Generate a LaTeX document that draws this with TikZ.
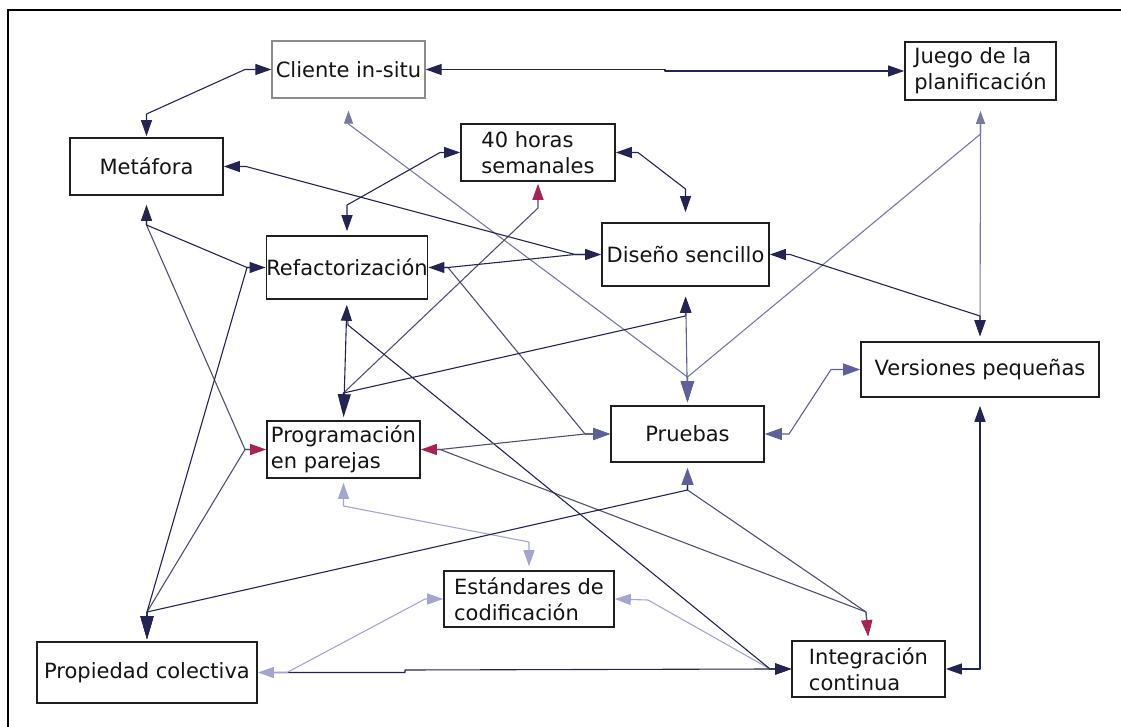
\documentclass[tikz,border=0pt]{standalone}
\usepackage{fontspec}
\setmainfont{DejaVu Sans}
\usetikzlibrary{arrows.meta}
\definecolor{dk}{RGB}{36,36,84}
\definecolor{md}{RGB}{95,95,155}
\definecolor{gy}{RGB}{120,120,160}
\definecolor{lg}{RGB}{80,80,110}
\definecolor{lv}{RGB}{165,165,210}
\definecolor{cr}{RGB}{165,35,85}
\tikzset{
  tdk/.tip={Triangle[length=16pt,width=11pt,color=dk]},
  bdk/.tip={Triangle[length=23pt,width=13pt,color=dk]},
  tmd/.tip={Triangle[length=17pt,width=12pt,color=md]},
  bmd/.tip={Triangle[length=21pt,width=13pt,color=md]},
  tgy/.tip={Triangle[length=13pt,width=9pt,color=gy]},
  tlv/.tip={Triangle[length=16pt,width=11pt,color=lv]},
  tcr/.tip={Triangle[length=16pt,width=11pt,color=cr]},
}
\begin{document}
\begin{tikzpicture}[x=1pt,y=-1pt,
  box/.style={draw=black!88, line width=1.6pt, fill=white, inner sep=0pt,
    align=left, text=black!92, font=\fontsize{21}{26}\selectfont},
  ln/.style={line width=1.1pt, line join=round}]
\useasboundingbox (0,0) rectangle (1121,727);
\draw[line width=2pt] (7.5,727) -- (7.5,10) -- (1121,10);

\node[box, draw=black!45, line width=1.2pt, minimum width=153pt, minimum height=57pt] (cli) at (348.5,69.5) {Cliente in-situ};
\node[box, minimum width=151pt, minimum height=58pt] (jue) at (980.5,71) {Juego de la\\planificación};
\node[box, minimum width=153pt, minimum height=57pt] (met) at (146.5,166.5) {Metáfora};
\node[box, minimum width=154pt, minimum height=57pt] (hor) at (538,152.5) {40 horas\\semanales};
\node[box, minimum width=160pt, minimum height=63pt] (ref) at (347,267.5) {Refactorización};
\node[box, minimum width=167pt, minimum height=63pt] (dis) at (685.5,254.5) {Diseño sencillo};
\node[box, minimum width=238pt, minimum height=55pt] (ver) at (980,369.5) {Versiones pequeñas};
\node[box, minimum width=153pt, minimum height=56pt] (pru) at (687.5,434) {Pruebas};
\node[box, minimum width=153pt, minimum height=57pt] (pro) at (343.5,449.5) {Programación\\en parejas};
\node[box, minimum width=170pt, minimum height=56pt] (est) at (529,599) {Estándares de\\codificación};
\node[box, minimum width=220pt, minimum height=61pt] (prp) at (147,672.5) {Propiedad colectiva};
\node[box, minimum width=153pt, minimum height=56pt] (int) at (868.5,669) {Integración\\continua};

% grey / light connectors first
\draw[ln,gy,tgy-bmd,shorten <=12pt,shorten >=3pt] (cli.south) -- (348.5,124) -- (687.5,377) -- (pru.north);
\draw[ln,gy,tgy-bmd,shorten <=10pt,shorten >=3pt] (jue.south) -- (980.5,134) -- (687.5,377) -- (pru.north);
\draw[ln,gy,-tdk,shorten <=23pt,shorten >=5pt] (jue.south) -- (980.5,134) -- (ver.north);
\draw[ln,lg,-tmd,shorten <=16pt] (ref.east) -- (448,267.5) -- (585,434) -- (pru.west);
\draw[ln,lg,-tcr,shorten <=16pt,shorten >=4pt] (pro.east) -- (440,449.5) -- (866,612) -- (int.north);
\draw[ln,lg,-tcr,shorten <=21pt,shorten >=4pt] (pru.south) -- (687.5,490) -- (866,612) -- (int.north);
\draw[ln,lg,-tcr,shorten <=25pt] (met.south) -- (146.5,225) -- (245,449.5) -- (pro.west);
\draw[ln,lg,-bdk,shorten <=16pt,shorten >=2pt] (pro.west) -- (245,449.5) -- (147,612) -- (prp.north);
\draw[ln,lg,-tcr,shorten <=24pt,shorten >=2pt] (pro.north) -- (343.5,393) -- (538,208) -- (hor.south);
\draw[ln,lv,tlv-tdk] (est.east) -- (648,600) -- (770,669) -- (int.west);
\draw[ln,lv,tlv-tlv,shorten <=4pt,shorten >=4pt] (pro.south) -- (343.5,506) -- (529,542) -- (est.north);

% dark connectors
\draw[ln,dk,tdk-tdk,shorten >=1pt] (cli.west) -- (245,69.5) -- (146.5,114) -- (met.north);
\draw[ln,dk,tdk-tdk] (cli.east) -- (665,69.5) -- (665,71) -- (jue.west);
\draw[ln,dk,tdk-tdk,shorten >=5pt] (dis.east) -- (790,254.5) -- (980,316) -- (ver.north);
\draw[ln,dk,tdk-tdk,shorten >=4pt] (hor.west) -- (440,152.5) -- (347,205) -- (ref.north);
\draw[ln,dk,tdk-tdk,shorten >=10pt] (hor.east) -- (638,152.5) -- (685.5,189) -- (dis.north);
\draw[ln,dk,-tdk,shorten <=24pt,shorten >=10pt] (pro.north) -- (343.5,393) -- (685.5,316) -- (dis.south);
\draw[ln,dk,tdk-tdk] (met.east) -- (246,166.5) -- (575,254.5) -- (dis.west);
\draw[ln,dk,-tdk,shorten <=16pt] (dis.west) -- (575,254.5) -- (448,267.5) -- (ref.east);
\draw[ln,dk,tdk-tdk,shorten <=9pt] (met.south) -- (146.5,225) -- (247,267.5) -- (ref.west);
\draw[ln,dk,-bdk,shorten <=16pt,shorten >=2pt] (ref.west) -- (247,267.5) -- (147,612) -- (prp.north);
\draw[ln,dk,tmd-bdk,shorten <=5pt,shorten >=2pt] (pru.south) -- (687.5,490) -- (147,612) -- (prp.north);
\draw[ln,dk,-tdk,shorten <=21pt] (ref.south) -- (348,325) -- (770,669) -- (int.west);
\draw[ln,dk,-tdk,shorten <=16pt] (prp.east) -- (287,672.5) -- (405,672.5) -- (405,670) -- (770,669) -- (int.west);
\draw[ln,dk,tdk-tdk,shorten <=8pt] (ver.south) -- (980,669) -- (int.east);
\draw[ln,dk,tdk-bdk,shorten <=5pt,shorten >=3pt] (ref.south) -- (pro.north);
\draw[ln,md,tdk-bmd,shorten <=10pt,shorten >=3pt] (dis.south) -- (pru.north);
\draw[ln,lg,tcr-tmd] (pro.east) -- (440,449.5) -- (585,434) -- (pru.west);
\draw[ln,md,tmd-tmd] (pru.east) -- (789,434) -- (831,369.5) -- (ver.west);
\draw[ln,lv,tlv-tlv] (prp.east) -- (287,672.5) -- (425,599) -- (est.west);
\end{tikzpicture}
\end{document}
